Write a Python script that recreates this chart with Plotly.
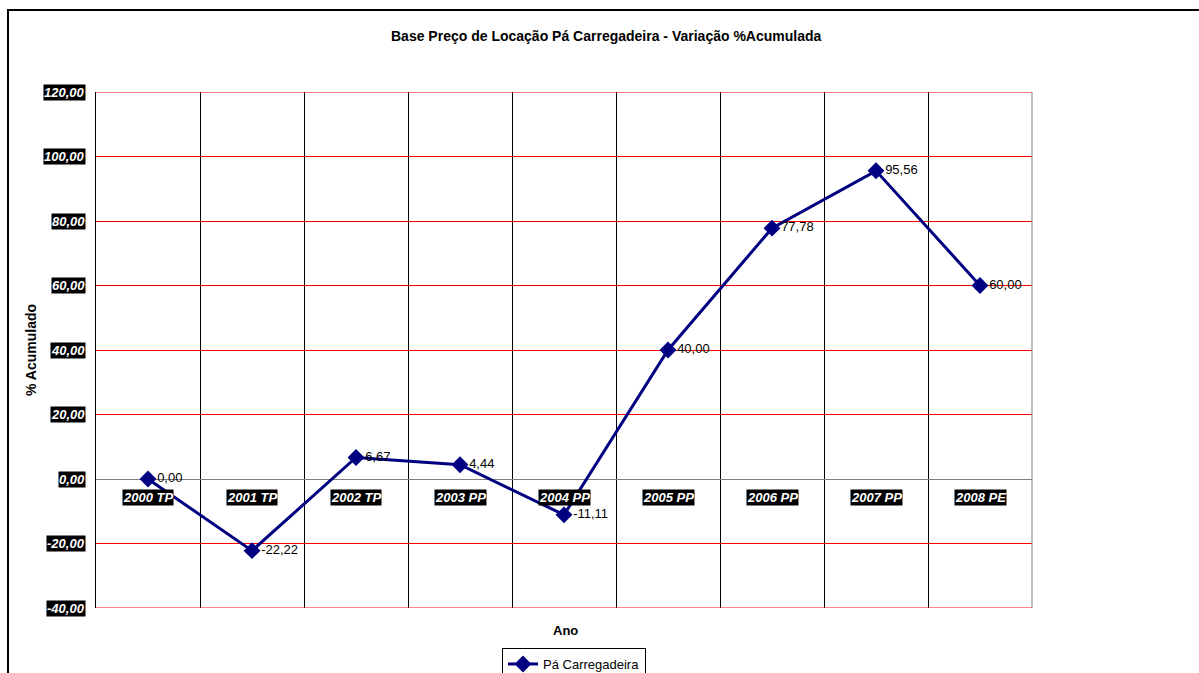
import plotly.graph_objects as go

# Accumulated rental-price variation of a wheel loader, by year
anos = ["2000 TP", "2001 TP", "2002 TP", "2003 PP", "2004 PP",
        "2005 PP", "2006 PP", "2007 PP", "2008 PE"]
variacao = [0.00, -22.22, 6.67, 4.44, -11.11, 40.00, 77.78, 95.56, 60.00]
y_ticks = [120, 100, 80, 60, 40, 20, 0, -20, -40]


def fmt_br(v):
    return f"{v:.2f}".replace(".", ",")


x_pos = list(range(len(anos)))

W, H = 1199, 673
L, R, T, B = 96, 1032, 92, 608
PW, PH = R - L, B - T


def px(x):
    return (x - L) / PW


def py(y):
    return (B - y) / PH


fig = go.Figure()
fig.add_trace(go.Scatter(
    x=x_pos, y=variacao, name="Pá Carregadeira",
    mode="lines+markers+text",
    line=dict(color="#000080", width=3),
    marker=dict(symbol="diamond", size=13, color="#000080"),
    text=[fmt_br(v) for v in variacao],
    textposition="middle right",
    textfont=dict(family="Arial", size=13, color="#000000"),
    cliponaxis=False,
))

label_font = dict(family="Arial", size=13, color="white", weight="bold", style="italic")
annotations = []
# y tick labels: white bold italic on black boxes
for t in y_ticks:
    annotations.append(dict(
        x=0, y=t, xref="paper", yref="y", xanchor="right", yanchor="middle",
        xshift=-10, text=fmt_br(t), showarrow=False,
        font=label_font, bgcolor="black", borderpad=0,
    ))
# category labels sitting under the zero line
for i, a in enumerate(anos):
    annotations.append(dict(
        x=i, y=0, xref="x", yref="y", xanchor="center", yanchor="middle",
        yshift=-18, text=a, showarrow=False,
        font=label_font, bgcolor="black", borderpad=0,
    ))
annotations += [
    dict(x=px(606), y=py(36), xref="paper", yref="paper",
         text="Base Preço de Locação Pá Carregadeira - Variação %Acumulada",
         showarrow=False, xanchor="center", yanchor="middle",
         font=dict(family="Arial", size=14, color="black", weight="bold")),
    dict(x=px(565), y=py(630), xref="paper", yref="paper",
         text="Ano", showarrow=False, xanchor="center", yanchor="middle",
         font=dict(family="Arial", size=13, color="black", weight="bold")),
    dict(x=px(31), y=py(350), xref="paper", yref="paper",
         text="% Acumulado", showarrow=False, textangle=-90,
         xanchor="center", yanchor="middle",
         font=dict(family="Arial", size=14, color="black", weight="bold")),
]

shapes = [
    # outer chart frame
    dict(type="rect", xref="paper", yref="paper",
         x0=px(8), x1=px(1215), y0=py(690), y1=py(10),
         line=dict(color="#000000", width=2), layer="below"),
    # red bounds at top and bottom of the value range
    dict(type="line", xref="paper", yref="y", x0=0, x1=1, y0=120, y1=120,
         line=dict(color="#ff0000", width=1)),
    dict(type="line", xref="paper", yref="y", x0=0, x1=1, y0=-40, y1=-40,
         line=dict(color="#ff0000", width=1)),
    # right plot-area edge
    dict(type="line", xref="paper", yref="paper", x0=1, x1=1, y0=0, y1=1,
         line=dict(color="#808080", width=1)),
]

fig.update_layout(
    width=W, height=H,
    margin=dict(l=L, r=W - R, t=T, b=H - B, autoexpand=False),
    paper_bgcolor="white", plot_bgcolor="white",
    showlegend=True,
    legend=dict(xref="container", yref="container",
                x=574 / W, y=(H - 648) / H, xanchor="center", yanchor="top",
                bordercolor="#000000", borderwidth=1, bgcolor="white",
                font=dict(family="Arial", size=13, color="black"),
                itemwidth=30, tracegroupgap=0),
    annotations=annotations,
    shapes=shapes,
    xaxis=dict(range=[-0.5, 8.5], tickvals=[i + 0.5 for i in range(8)],
               showticklabels=False, ticks="", showgrid=True,
               gridcolor="#000000", gridwidth=1, zeroline=False, showline=False),
    yaxis=dict(range=[-40, 120], dtick=20, showticklabels=False, ticks="",
               showgrid=True, gridcolor="#ff0000", gridwidth=1,
               zeroline=True, zerolinecolor="#808080", zerolinewidth=1,
               showline=True, linecolor="#000000", linewidth=1),
)

fig.write_html("out.html")
